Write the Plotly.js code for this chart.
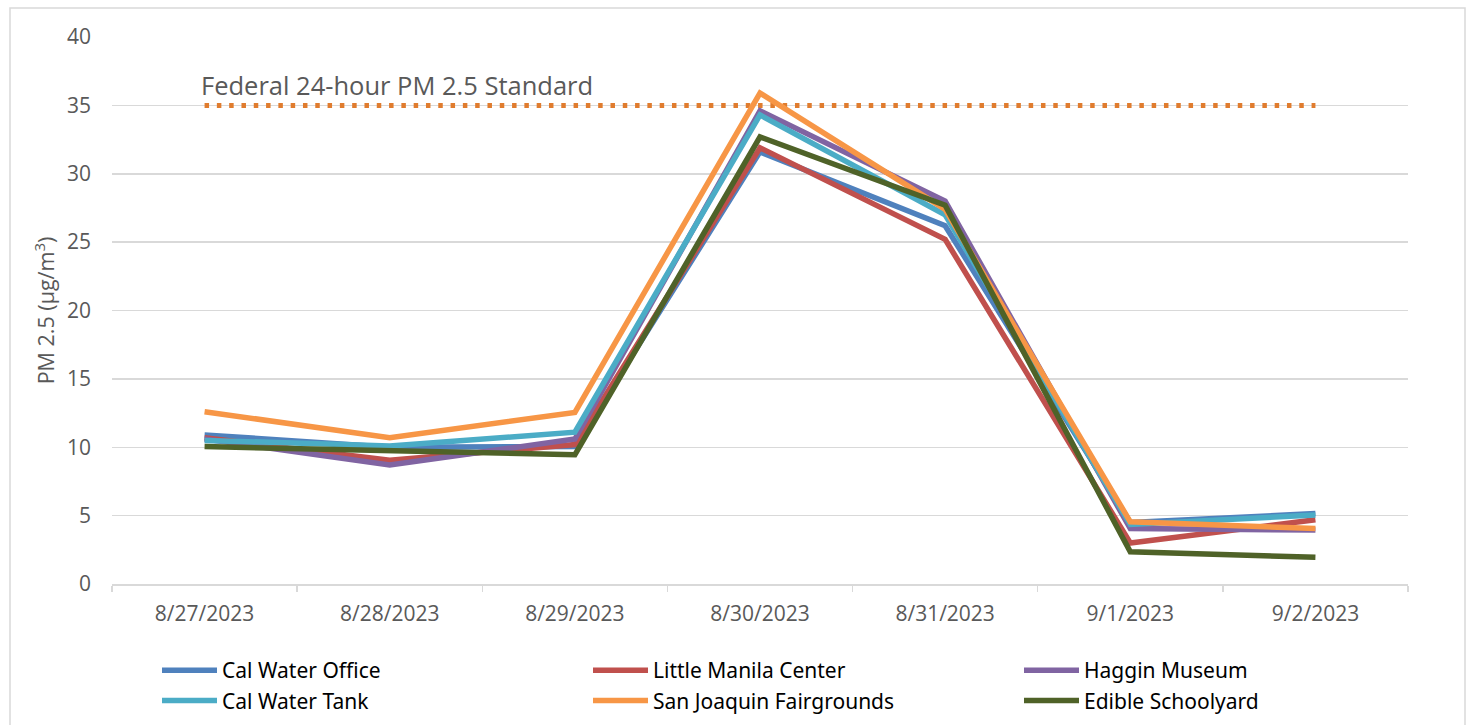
<!DOCTYPE html>
<html>
<head>
<meta charset="utf-8">
<script src="https://cdn.plot.ly/plotly-3.0.1.min.js"></script>
<style>html,body{margin:0;padding:0;background:#fff;}#chart{width:1468px;height:725px;}</style>
</head>
<body>
<div id="chart"></div>
<script>
const dates = ["8/27/2023","8/28/2023","8/29/2023","8/30/2023","8/31/2023","9/1/2023","9/2/2023"];
const calWaterOffice   = [10.9, 10.0, 10.05, 31.6, 26.2, 4.5, 5.15];
const littleManila     = [10.7, 9.05, 10.2, 31.9, 25.2, 3.0, 4.7];
const hagginMuseum     = [10.6, 8.7, 10.6, 34.6, 28.0, 4.05, 3.95];
const calWaterTank     = [10.5, 10.1, 11.1, 34.3, 27.0, 4.35, 5.05];
const sanJoaquin       = [12.6, 10.7, 12.55, 35.9, 27.4, 4.55, 4.05];
const edibleSchoolyard = [10.05, 9.75, 9.45, 32.7, 27.7, 2.35, 1.95];
const standardValue = [35, 35, 35, 35, 35, 35, 35];
const standardLabel = "Federal 24-hour PM 2.5 Standard";

const series = [
  {name: "Cal Water Office", y: calWaterOffice, color: "#4F81BD"},
  {name: "Little Manila Center", y: littleManila, color: "#C0504D"},
  {name: "Haggin Museum", y: hagginMuseum, color: "#8064A2"},
  {name: "Cal Water Tank", y: calWaterTank, color: "#4BACC6"},
  {name: "San Joaquin Fairgrounds", y: sanJoaquin, color: "#F79646"},
  {name: "Edible Schoolyard", y: edibleSchoolyard, color: "#4F6228"}
];

const traces = series.map(s => ({
  type: "scatter", mode: "lines", name: s.name, x: dates, y: s.y,
  line: {color: s.color, width: 5.5, shape: "linear"},
  hoverinfo: "x+y+name"
}));
traces.unshift({
  type: "scatter", mode: "lines", name: standardLabel, x: dates, y: standardValue,
  line: {color: "#E07C2E", width: 5, dash: "4.5px,7.8px"}, showlegend: false
});

const W = 1468, H = 725, L = 112, R = 60, T = 37, B = 141;
const pw = W - L - R, ph = H - T - B;
const px = x => (x - L) / pw;
const py = y => (H - B - y) / ph;

const layout = {
  width: W, height: H,
  margin: {l: L, r: R, t: T, b: B, autoexpand: false},
  paper_bgcolor: "#fff", plot_bgcolor: "#fff",
  font: {family: "Open Sans, sans-serif", color: "#595959"},
  showlegend: true,
  xaxis: {
    type: "category", range: [-0.5, 6.5], showgrid: false, zeroline: false,
    showline: true, linecolor: "#D9D9D9", linewidth: 1.5,
    ticks: "outside", tickson: "boundaries", ticklen: 6, tickcolor: "#D9D9D9", tickwidth: 1.5,
    ticklabelstandoff: 10,
    tickfont: {family: "Open Sans, sans-serif", size: 21, color: "#595959"}
  },
  yaxis: {
    range: [0, 40], dtick: 5, showgrid: true, gridcolor: "#D9D9D9", gridwidth: 1.5,
    zeroline: false, showline: false, ticks: "", ticklabelstandoff: 20,
    tickfont: {family: "Open Sans, sans-serif", size: 21, color: "#595959"},
    title: {text: "PM 2.5 (µg/m<sup>3</sup>)", font: {family: "Open Sans, sans-serif", size: 21.5, color: "#595959"}, standoff: 6}
  },
  legend: {
    orientation: "h", x: px(157), xanchor: "left", y: py(650), yanchor: "top",
    entrywidth: 361, entrywidthmode: "pixels", itemwidth: 55,
    font: {family: "Noto Sans, sans-serif", size: 21, color: "#000"},
    bgcolor: "rgba(0,0,0,0)", tracegroupgap: 0
  },
  annotations: [{
    text: standardLabel, xref: "paper", yref: "paper", x: px(199), y: py(85),
    xanchor: "left", yanchor: "middle", showarrow: false,
    font: {family: "Open Sans, sans-serif", size: 25.5, color: "#595959"}
  }],
  shapes: [{
    type: "rect", xref: "paper", yref: "paper",
    x0: px(10), x1: px(1465), y0: py(740), y1: py(8),
    line: {color: "#D9D9D9", width: 1.5}, fillcolor: "rgba(0,0,0,0)", layer: "below"
  }]
};

Plotly.newPlot("chart", traces, layout, {displayModeBar: false, staticPlot: true});
</script>
</body>
</html>
